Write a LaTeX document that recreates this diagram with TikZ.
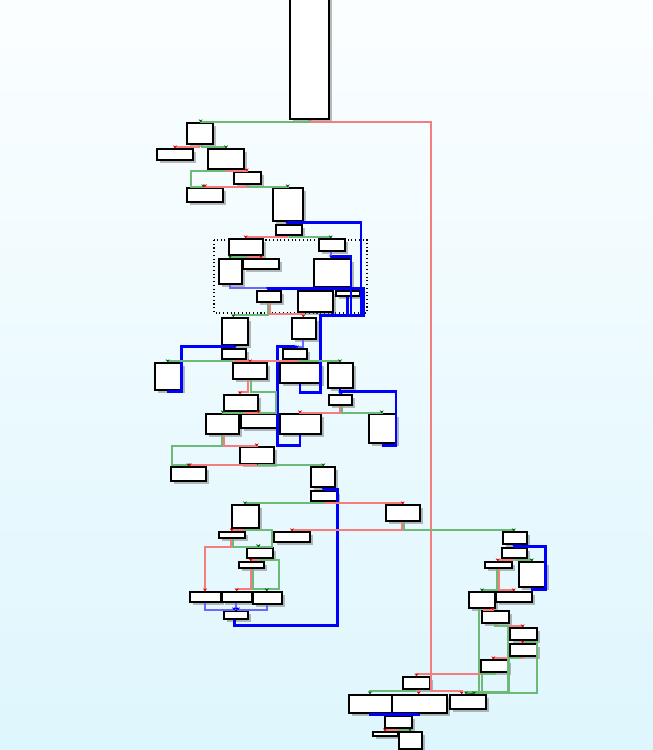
\documentclass[tikz,border=0pt]{standalone}
\usepackage{tikz}
\usetikzlibrary{arrows.meta, fit, shadows}

\definecolor{edgegreen}{RGB}{110,185,120}
\definecolor{edgered}{RGB}{245,125,125}
\definecolor{edgeblue}{RGB}{0,0,255}
\definecolor{edgelblue}{RGB}{105,105,255}
\definecolor{bgtop}{RGB}{251,254,255}
\definecolor{bgbot}{RGB}{222,246,253}

\begin{document}
\begin{tikzpicture}[x=0.75pt, y=-0.75pt,
  blk/.style={draw, fill=white, line width=1.1pt, inner sep=0pt,
    drop shadow={shadow xshift=2.4pt, shadow yshift=-2.4pt, fill=black!60, opacity=0.45}},
  ge/.style={draw=edgegreen, line width=1.5pt, -{Stealth[length=2.2pt, width=3pt, color=green!40!black]}},
  re/.style={draw=edgered, line width=1.5pt, -{Stealth[length=2.2pt, width=3pt, color=red!90!black]}},
  be/.style={draw=edgeblue, line width=2pt, -{Stealth[length=2.2pt, width=3pt]}},
  lb/.style={draw=edgelblue, line width=1.5pt, -{Stealth[length=2.2pt, width=3pt, color=edgeblue]}}]

  % Background
  \shade[top color=bgtop, bottom color=bgbot] (0,0) rectangle (653,750);
  \useasboundingbox (0,0) rectangle (653,750);

  % Loop region
  \draw[dotted, line width=0.8pt] (214,240) rectangle (367,313);

  % Blocks, top part
  \node[blk, fit={(290,-5) (329,119)}] (entry) {};
  \node[blk, fit={(187,123) (213,144)}] (s1) {};
  \node[blk, fit={(157,149) (193,160)}] (s2) {};
  \node[blk, fit={(208,149) (244,169)}] (s3) {};
  \node[blk, fit={(234,172) (261,184)}] (s4) {};
  \node[blk, fit={(187,188) (223,202)}] (s5) {};
  \node[blk, fit={(273,188) (303,221)}] (s6) {};
  \node[blk, fit={(276,225) (302,235)}] (s7) {};

  % Blocks inside the loop region
  \node[blk, fit={(229,239) (263,255)}] (l1) {};
  \node[blk, fit={(319,239) (345,251)}] (l2) {};
  \node[blk, fit={(219,259) (242,284)}] (l3) {};
  \node[blk, fit={(243,259) (279,269)}] (l4) {};
  \node[blk, fit={(314,259) (351,287)}] (l5) {};
  \node[blk, fit={(257,291) (281,302)}] (l6) {};
  \node[blk, fit={(298,291) (333,312)}] (l7) {};
  \node[blk, fit={(336,291) (360,296)}] (l8) {};

  % Blocks, middle part
  \node[blk, fit={(222,318) (248,345)}] (m1) {};
  \node[blk, fit={(292,318) (316,339)}] (m2) {};
  \node[blk, fit={(222,349) (246,359)}] (m3) {};
  \node[blk, fit={(283,349) (307,359)}] (m4) {};
  \node[blk, fit={(155,363) (182,390)}] (m5) {};
  \node[blk, fit={(233,363) (267,379)}] (m6) {};
  \node[blk, fit={(280,363) (321,383)}] (m7) {};
  \node[blk, fit={(328,363) (353,388)}] (m8) {};
  \node[blk, fit={(224,395) (258,411)}] (m9) {};
  \node[blk, fit={(329,395) (352,405)}] (m10) {};
  \node[blk, fit={(206,414) (239,434)}] (m11) {};
  \node[blk, fit={(241,414) (277,428)}] (m12) {};
  \node[blk, fit={(280,414) (321,434)}] (m13) {};
  \node[blk, fit={(369,414) (396,443)}] (m14) {};
  \node[blk, fit={(240,447) (274,464)}] (m15) {};
  \node[blk, fit={(171,467) (206,481)}] (m16) {};
  \node[blk, fit={(311,467) (335,487)}] (m17) {};

  % Blocks, lower left part
  \node[blk, fit={(311,491) (337,501)}] (k1) {};
  \node[blk, fit={(232,505) (259,528)}] (k2) {};
  \node[blk, fit={(386,505) (420,521)}] (k3) {};
  \node[blk, fit={(219,532) (245,538)}] (k4) {};
  \node[blk, fit={(274,532) (310,542)}] (k5) {};
  \node[blk, fit={(247,548) (273,558)}] (k6) {};
  \node[blk, fit={(239,562) (264,568)}] (k7) {};
  \node[blk, fit={(190,592) (221,602)}] (k8) {};
  \node[blk, fit={(222,592) (252,602)}] (k9) {};
  \node[blk, fit={(253,592) (282,604)}] (k10) {};
  \node[blk, fit={(224,611) (248,619)}] (k11) {};

  % Blocks, right part
  \node[blk, fit={(503,532) (527,544)}] (r1) {};
  \node[blk, fit={(502,548) (527,558)}] (r2) {};
  \node[blk, fit={(485,562) (512,568)}] (r3) {};
  \node[blk, fit={(519,562) (546,587)}] (r4) {};
  \node[blk, fit={(469,592) (495,608)}] (r5) {};
  \node[blk, fit={(496,592) (532,602)}] (r6) {};
  \node[blk, fit={(482,611) (509,623)}] (r7) {};
  \node[blk, fit={(510,628) (537,640)}] (r8) {};
  \node[blk, fit={(510,644) (537,656)}] (r9) {};
  \node[blk, fit={(481,660) (508,672)}] (r10) {};

  % Blocks, exit part
  \node[blk, fit={(403,677) (430,689)}] (e1) {};
  \node[blk, fit={(349,695) (392,713)}] (e2) {};
  \node[blk, fit={(392,695) (447,713)}] (e3) {};
  \node[blk, fit={(450,695) (486,709)}] (e4) {};
  \node[blk, fit={(385,716) (412,728)}] (e5) {};
  \node[blk, fit={(373,732) (398,736)}] (e6) {};
  \node[blk, fit={(399,732) (422,749)}] (e7) {};

  % Edges, top part
  \draw[ge] (entry.south -| 308.7,0) |- (200.7,121.7) -- (s1.north -| 200.7,0);
  \draw[re] (entry.south -| 310.5,0) |- (431,121.7) |- (461.7,690.7) -- (e4.north -| 461.7,0);
  \draw[re] (s1.south -| 199,0) |- (175,146.7) -- (s2.north -| 175,0);
  \draw[ge] (s1.south -| 201.7,0) |- (226,146.7) -- (s3.north -| 226,0);
  \draw[re] (s3.south -| 226.7,0) |- (246.7,170.7) -- (s4.north -| 246.7,0);
  \draw[ge] (s3.south -| 225,0) |- (191,170.7) |- (203.3,186.5) -- (s5.north -| 203.3,0);
  \draw[re] (s4.south -| 246.7,0) |- (205,186.5) -- (s5.north -| 205,0);
  \draw[ge] (s4.south -| 248.3,0) |- (287.7,186.5) -- (s6.north -| 287.7,0);
  \draw[be] (s6.south -| 287,0) -- (s7.north -| 287,0);

  % Edges, loop region
  \draw[re] (s7.south -| 286.7,0) |- (245.7,237.3) -- (l1.north -| 245.7,0);
  \draw[ge] (s7.south -| 290,0) |- (330.7,237.3) -- (l2.north -| 330.7,0);
  \draw[ge] (l1.south -| 246.7,0) |- (230,257) -- (l3.north -| 230,0);
  \draw[re] (l1.south -| 248,0) |- (261,257) -- (l4.north -| 261,0);
  \draw[lb] (l2.south -| 331,0) -- (l5.north -| 331,0);
  \draw[lb] (l3.south -| 230,0) |- (268,288.3) -- (l6.north -| 268,0);
  \draw[ge] (l5.south -| 330,0) |- (316,289.3) -- (l7.north -| 316,0);
  \draw[re] (l5.south -| 331.7,0) |- (346.7,289.3) -- (l8.north -| 346.7,0);
  \draw[be] (l7.south -| 333,0) |- (363.3,315.3) |- (268.3,288.3) -- (l6.north -| 268.3,0);
  \draw[be] (l8.south -| 347.7,0) |- (351,315.3) |- (332,256.7) -- (l5.north -| 332,0);
  \draw[be] (m7.south -| 300,0) |- (320.7,392.3) |- (361,315.3) |- (288.5,222.7) -- (s7.north -| 288.5,0);

  % Edges, middle part
  \draw[ge] (l6.south -| 268.3,0) |- (233.3,315) -- (m1.north -| 233.3,0);
  \draw[re] (l6.south -| 270,0) |- (303.3,314.3) -- (m2.north -| 303.3,0);
  \draw[be] (m1.south -| 235,0) -- (m3.north -| 235,0);
  \draw[lb] (m2.south -| 303.3,0) |- (297,346.7) -- (m4.north -| 297,0);
  \draw[be] (m5.south -| 168.3,0) |- (181.7,391.7) |- (233.3,346.7) -- (m3.north -| 233.3,0);
  \draw[be] (m13.south -| 300,0) |- (277.3,445.7) |- (295,346.7) -- (m4.north -| 295,0);
  \draw[ge] (m3.south -| 231.7,0) |- (167.7,360.9) -- (m5.north -| 167.7,0);
  \draw[re] (m3.south -| 235,0) |- (300,361.3) -- (m7.north -| 300,0);
  \draw[re] (m4.south -| 297,0) |- (250,361.3) -- (m6.north -| 250,0);
  \draw[ge] (m4.south -| 298.5,0) |- (340,360.9) -- (m8.north -| 340,0);
  \draw[re] (m6.south -| 248.3,0) |- (240,391.7) -- (m9.north -| 240,0);
  \draw[ge] (m6.south -| 250.7,0) |- (276,391.7) |- (258.3,412.5) -- (m12.north -| 258.3,0);
  \draw[re] (m9.south -| 244.5,0) |- (258.3,412.5) -- (m12.north -| 258.3,0);
  \draw[ge] (m9.south -| 243.3,0) |- (222.7,412.5) -- (m11.north -| 222.7,0);
  \draw[be] (m8.south -| 340,0) -- (m10.north -| 340,0);
  \draw[be] (m14.south -| 383.3,0) |- (396,445.7) |- (341.7,391.7) -- (m10.north -| 341.7,0);
  \draw[re] (m10.south -| 340,0) |- (300,412.5) -- (m13.north -| 300,0);
  \draw[ge] (m10.south -| 341.7,0) |- (381.7,412.5) -- (m14.north -| 381.7,0);
  \draw[ge] (m11.south -| 221.7,0) |- (172.3,445.7) |- (188.3,465.2) -- (m16.north -| 188.3,0);
  \draw[re] (m11.south -| 223.7,0) |- (256.7,445.7) -- (m15.north -| 256.7,0);
  \draw[re] (m15.south -| 256.7,0) |- (189.8,465.2) -- (m16.north -| 189.8,0);
  \draw[ge] (m15.south -| 258.3,0) |- (323.3,465.2) -- (m17.north -| 323.3,0);

  % Edges, lower left part
  \draw[be] (m17.south -| 323.3,0) -- (k1.north -| 323.3,0);
  \draw[be] (k11.south -| 234.7,0) |- (337.7,625.7) |- (325,489.3) -- (k1.north -| 325,0);
  \draw[ge] (k1.south -| 323.3,0) |- (245,503) -- (k2.north -| 245,0);
  \draw[re] (k1.south -| 325,0) |- (402.7,503) -- (k3.north -| 402.7,0);
  \draw[re] (k2.south -| 243.3,0) |- (231.7,530) -- (k4.north -| 231.7,0);
  \draw[ge] (k2.south -| 244.8,0) |- (271.7,530) |- (258.3,546.7) -- (k6.north -| 258.3,0);
  \draw[ge] (k4.south -| 232.7,0) |- (258.3,546.7) -- (k6.north -| 258.3,0);
  \draw[re] (k4.south -| 230.5,0) |- (205,547) -- (k8.north -| 205,0);
  \draw[re] (k3.south -| 402,0) |- (292,530.3) -- (k5.north -| 292,0);
  \draw[re] (k6.south -| 256.7,0) |- (250.7,560) -- (k7.north -| 250.7,0);
  \draw[ge] (k6.south -| 260,0) |- (279.3,560) |- (266.7,589.3) -- (k10.north -| 266.7,0);
  \draw[ge] (k7.south -| 252.7,0) |- (266.7,589.3) -- (k10.north -| 266.7,0);
  \draw[re] (k7.south -| 250.5,0) |- (236.7,589.3) -- (k9.north -| 236.7,0);
  \draw[lb] (k8.south -| 205,0) |- (234,609.5) -- (k11.north -| 234,0);
  \draw[lb] (k9.south -| 236.2,0) -- (k11.north -| 236.2,0);
  \draw[lb] (k10.south -| 266.7,0) |- (238,609.5) -- (k11.north -| 238,0);

  % Edges, right part
  \draw[ge] (k3.south -| 404.3,0) |- (513.7,529.7) -- (r1.north -| 513.7,0);
  \draw[be] (r1.south -| 514,0) -- (r2.north -| 514,0);
  \draw[be] (r4.south -| 532.3,0) |- (545.7,589.7) |- (515.5,546.7) -- (r2.north -| 515.5,0);
  \draw[re] (r2.south -| 513.3,0) |- (497.7,560.3) -- (r3.north -| 497.7,0);
  \draw[ge] (r2.south -| 516,0) |- (531.7,560.3) -- (r4.north -| 531.7,0);
  \draw[ge] (r3.south -| 497,0) |- (482,590) -- (r5.north -| 482,0);
  \draw[re] (r3.south -| 498.5,0) |- (513.7,590) -- (r6.north -| 513.7,0);
  \draw[re] (r5.south -| 484,0) |- (492.7,609.5) -- (r7.north -| 492.7,0);
  \draw[ge] (r5.south -| 479.3,0) |- (470,691.7) -- (e4.north -| 470,0);
  \draw[re] (r7.south -| 496.7,0) |- (522.7,626) -- (r8.north -| 522.7,0);
  \draw[ge] (r7.south -| 495,0) |- (508.3,626) |- (468,691.7) -- (e4.north -| 468,0);
  \draw[re] (r8.south -| 522.7,0) -- (r9.north -| 522.7,0);
  \draw[ge] (r8.south -| 524.5,0) |- (536.7,642) |- (472,692.5) -- (e4.north -| 472,0);
  \draw[re] (r9.south -| 522.7,0) |- (493.3,657.7) -- (r10.north -| 493.3,0);
  \draw[ge] (r9.south -| 520,0) |- (509.3,657.7) |- (466,691.7) -- (e4.north -| 466,0);
  \draw[re] (r10.south -| 493.3,0) |- (416.5,674) -- (e1.north -| 416.5,0);
  \draw[ge] (r10.south -| 495,0) |- (481.7,674) |- (474,691.7) -- (e4.north -| 474,0);

  % Edges, exit part
  \draw[ge] (e1.south -| 415,0) |- (370,690.7) -- (e2.north -| 370,0);
  \draw[re] (e1.south -| 418.7,0) -- (e3.north -| 418.7,0);
  \draw[be] (e2.south -| 370,0) |- (396,714.5) -- (e5.north -| 396,0);
  \draw[be] (e3.south -| 418.7,0) |- (398,714.5) -- (e5.north -| 398,0);
  \draw[re] (e5.south -| 396.7,0) |- (385,730) -- (e6.north -| 385,0);
  \draw[ge] (e5.south -| 399,0) |- (410,730) -- (e7.north -| 410,0);
\end{tikzpicture}
\end{document}
